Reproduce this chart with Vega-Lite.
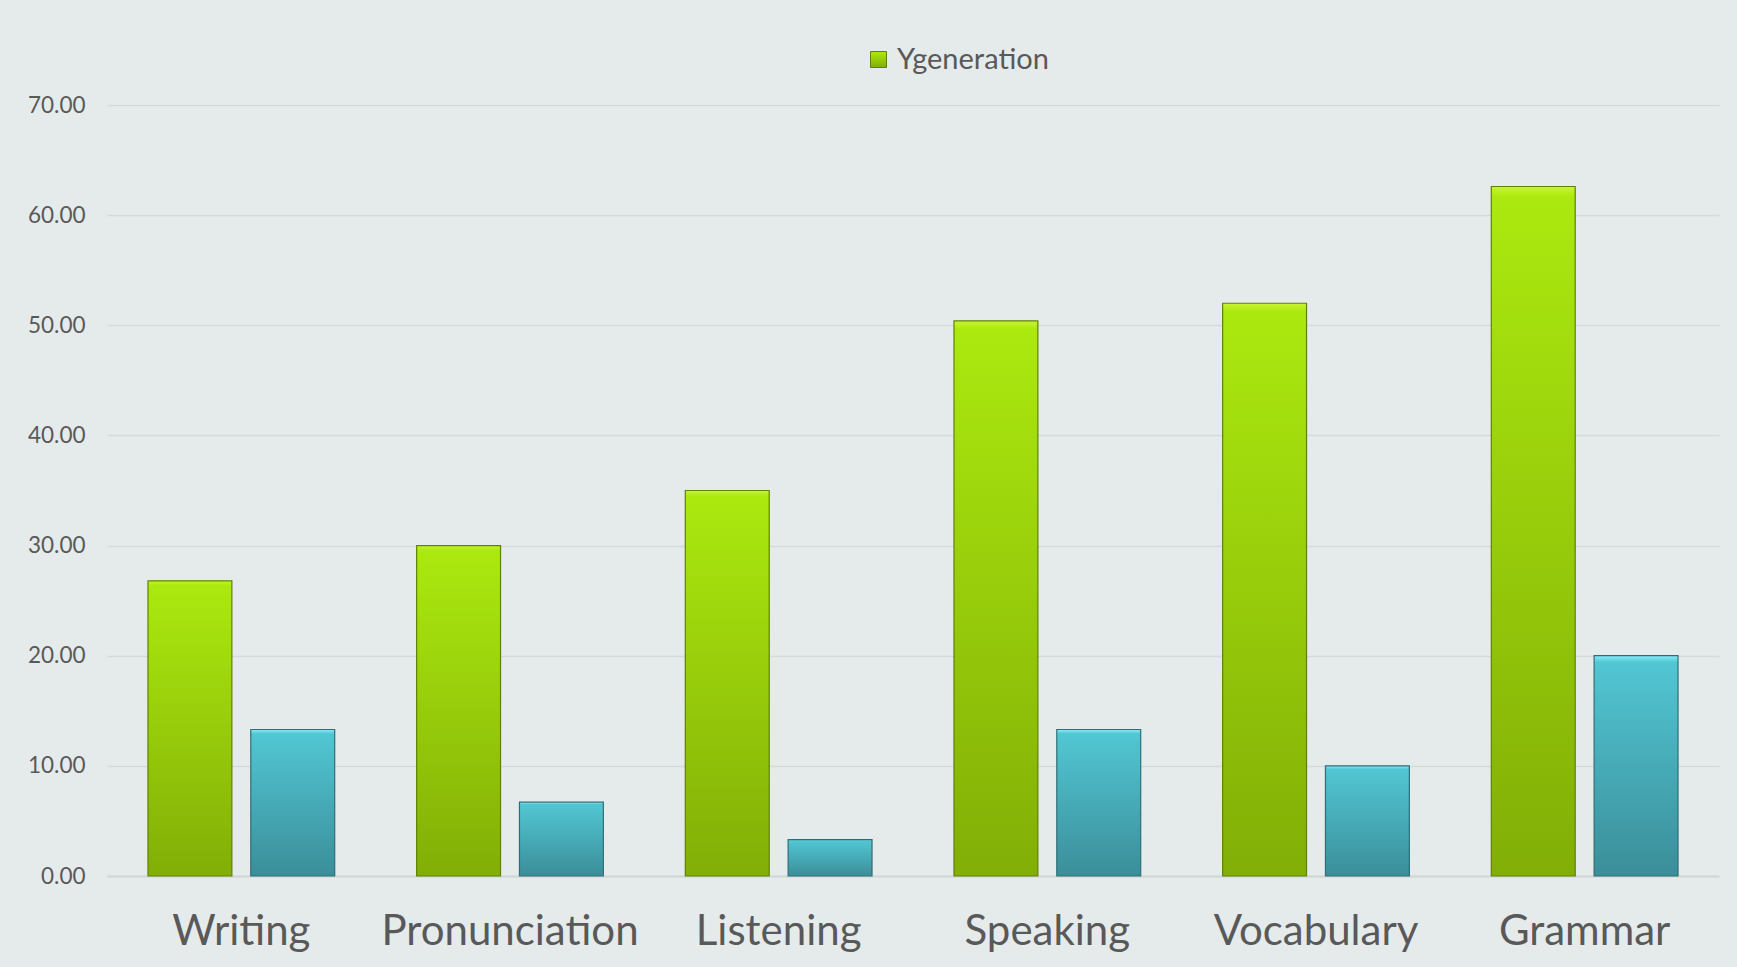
{
  "$schema": "https://vega.github.io/schema/vega-lite/v6.json",
  "width": 1612,
  "height": 771,
  "autosize": {"type": "none"},
  "padding": {"left": 107, "top": 105, "right": 18, "bottom": 91},
  "background": "#E5EBEB",
  "config": {"view": {"stroke": null}, "font": "Lato"},
  "data": {
    "values": [
      {"skill": "Writing", "series": "Ygeneration", "value": 26.8},
      {"skill": "Writing", "series": "Xgeneration", "value": 13.3},
      {"skill": "Pronunciation", "series": "Ygeneration", "value": 30.0},
      {"skill": "Pronunciation", "series": "Xgeneration", "value": 6.7},
      {"skill": "Listening", "series": "Ygeneration", "value": 35.0},
      {"skill": "Listening", "series": "Xgeneration", "value": 3.3},
      {"skill": "Speaking", "series": "Ygeneration", "value": 50.4},
      {"skill": "Speaking", "series": "Xgeneration", "value": 13.3},
      {"skill": "Vocabulary", "series": "Ygeneration", "value": 52.0},
      {"skill": "Vocabulary", "series": "Xgeneration", "value": 10.0},
      {"skill": "Grammar", "series": "Ygeneration", "value": 62.6},
      {"skill": "Grammar", "series": "Xgeneration", "value": 20.0}
    ]
  },
  "encoding": {
    "x": {
      "field": "skill",
      "type": "nominal",
      "sort": null,
      "scale": {"paddingInner": 0.305, "paddingOuter": 0.1525},
      "axis": {
        "title": null,
        "labelAngle": 0,
        "labelFontSize": 42,
        "labelLimit": 0,
        "labelColor": "#595959",
        "labelPadding": 35,
        "ticks": false,
        "domain": true,
        "domainColor": "#D2D6D6",
        "domainWidth": 2
      }
    },
    "xOffset": {
      "field": "series",
      "type": "nominal",
      "scale": {"domain": ["Ygeneration", "Xgeneration"], "paddingInner": 0.184, "paddingOuter": 0}
    },
    "y": {
      "field": "value",
      "type": "quantitative",
      "scale": {"domain": [0, 70]},
      "axis": {
        "title": null,
        "values": [0, 10, 20, 30, 40, 50, 60, 70],
        "format": ".2f",
        "labelFontSize": 22.5,
        "labelColor": "#595959",
        "labelPadding": 22,
        "ticks": false,
        "domain": false,
        "gridColor": "#D6DADA",
        "gridWidth": 1.5
      }
    }
  },
  "layer": [
    {
      "transform": [{"filter": "datum.series == 'Ygeneration'"}],
      "mark": {"type": "bar", "strokeWidth": 1.2},
      "encoding": {
        "fill": {"value": {"gradient": "linear", "x1": 0, "y1": 0, "x2": 0, "y2": 1, "stops": [{"offset": 0, "color": "#C8F530"}, {"offset": 0.015, "color": "#ABE90F"}, {"offset": 1, "color": "#82AE06"}]}},
        "stroke": {
          "field": "series",
          "type": "nominal",
          "scale": {"domain": ["Ygeneration"], "range": ["#5F8205"]},
          "legend": {
            "title": null,
            "orient": "none",
            "legendX": 757,
            "legendY": -60,
            "symbolType": "square",
            "symbolSize": 256,
            "symbolStrokeWidth": 1,
            "labelFontSize": 29,
            "labelColor": "#595959",
            "labelOffset": 4,
            "encode": {"symbols": {"update": {"fill": {"value": "#96C80A"}, "fillOpacity": {"value": 1}}}}
          }
        }
      }
    },
    {
      "transform": [{"filter": "datum.series == 'Xgeneration'"}],
      "mark": {"type": "bar", "strokeWidth": 1.2, "stroke": "#2F6E77"},
      "encoding": {
        "fill": {"value": {"gradient": "linear", "x1": 0, "y1": 0, "x2": 0, "y2": 1, "stops": [{"offset": 0, "color": "#86EEF9"}, {"offset": 0.03, "color": "#52C6D3"}, {"offset": 1, "color": "#3A8E99"}]}}
      }
    }
  ]
}
